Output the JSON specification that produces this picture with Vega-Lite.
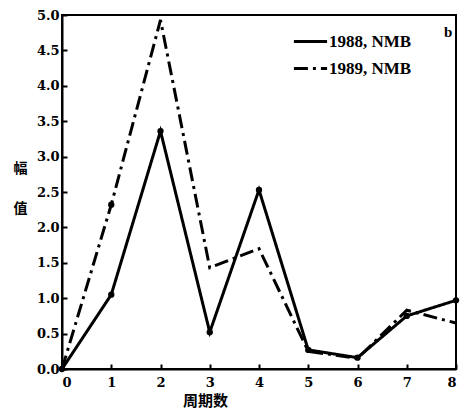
{
  "$schema": "https://vega.github.io/schema/vega-lite/v6.json",
  "width": 394,
  "height": 354,
  "autosize": "none",
  "padding": {"left": 62, "top": 15, "right": 5, "bottom": 43},
  "background": "white",
  "config": {
    "view": {"stroke": "black", "strokeWidth": 2},
    "axis": {
      "domainColor": "black", "domainWidth": 2, "tickColor": "black", "tickWidth": 2,
      "tickSize": -5, "grid": false, "labelFont": "DejaVu Serif", "labelFontWeight": "bold",
      "labelFontSize": 13, "labelColor": "black", "titleColor": "black"
    }
  },
  "data": {
    "values": [
      {"period": 0, "value": 0.0, "series": "1988, NMB"},
      {"period": 1, "value": 1.05, "series": "1988, NMB"},
      {"period": 2, "value": 3.36, "series": "1988, NMB"},
      {"period": 3, "value": 0.52, "series": "1988, NMB"},
      {"period": 4, "value": 2.53, "series": "1988, NMB"},
      {"period": 5, "value": 0.27, "series": "1988, NMB"},
      {"period": 6, "value": 0.16, "series": "1988, NMB"},
      {"period": 7, "value": 0.75, "series": "1988, NMB"},
      {"period": 8, "value": 0.97, "series": "1988, NMB"},
      {"period": 0, "value": 0.0, "series": "1989, NMB"},
      {"period": 1, "value": 2.32, "series": "1989, NMB"},
      {"period": 2, "value": 4.93, "series": "1989, NMB"},
      {"period": 3, "value": 1.43, "series": "1989, NMB"},
      {"period": 4, "value": 1.7, "series": "1989, NMB"},
      {"period": 5, "value": 0.25, "series": "1989, NMB"},
      {"period": 6, "value": 0.15, "series": "1989, NMB"},
      {"period": 7, "value": 0.83, "series": "1989, NMB"},
      {"period": 8, "value": 0.65, "series": "1989, NMB"}
    ]
  },
  "encoding": {
    "x": {
      "field": "period", "type": "quantitative",
      "scale": {"domain": [0, 8], "nice": false},
      "axis": {
        "values": [0, 1, 2, 3, 4, 5, 6, 7, 8], "format": "d", "labelPadding": 12,
        "title": "周期数", "titleFont": "Noto Sans CJK SC", "titleFontWeight": "bold",
        "titleFontSize": 15, "titleX": 143, "titleY": 31, "titleAlign": "center", "titleBaseline": "middle"
      }
    },
    "y": {
      "field": "value", "type": "quantitative",
      "scale": {"domain": [0, 5], "nice": false},
      "axis": {
        "values": [0, 0.5, 1, 1.5, 2, 2.5, 3, 3.5, 4, 4.5, 5], "format": ".1f", "labelPadding": 8,
        "title": ["幅", "值"], "titleAngle": 0, "titleFont": "Noto Sans CJK SC", "titleFontWeight": "bold",
        "titleFontSize": 14, "titleX": -42, "titleY": 160, "titleLineHeight": 40, "titleAlign": "center"
      }
    }
  },
  "layer": [
    {
      "mark": {"type": "line", "color": "black", "strokeWidth": 3},
      "encoding": {
        "detail": {"field": "series"},
        "strokeDash": {
          "field": "series", "type": "nominal",
          "scale": {"domain": ["1988, NMB", "1989, NMB"], "range": [[1, 0], [14, 5, 3, 5]]},
          "legend": {
            "title": null, "orient": "none", "legendX": 230, "legendY": 8,
            "symbolType": "stroke", "symbolStrokeWidth": 3, "symbolStrokeColor": "black",
            "symbolSize": 1100, "rowPadding": 0,
            "labelFont": "Liberation Serif", "labelFontWeight": "bold", "labelFontSize": 17,
            "labelColor": "black", "labelOffset": 0
          }
        }
      }
    },
    {
      "mark": {"type": "circle", "color": "black", "size": 40, "opacity": 1},
      "transform": [{"filter": "datum.series == '1988, NMB' || datum.period == 1"}]
    },
    {
      "data": {"values": [{"period": 7.84, "value": 4.76, "t": "b"}]},
      "mark": {"type": "text", "font": "Liberation Serif", "fontWeight": "bold", "fontSize": 15, "color": "black", "align": "center", "baseline": "middle"},
      "encoding": {"text": {"field": "t"}}
    }
  ]
}
